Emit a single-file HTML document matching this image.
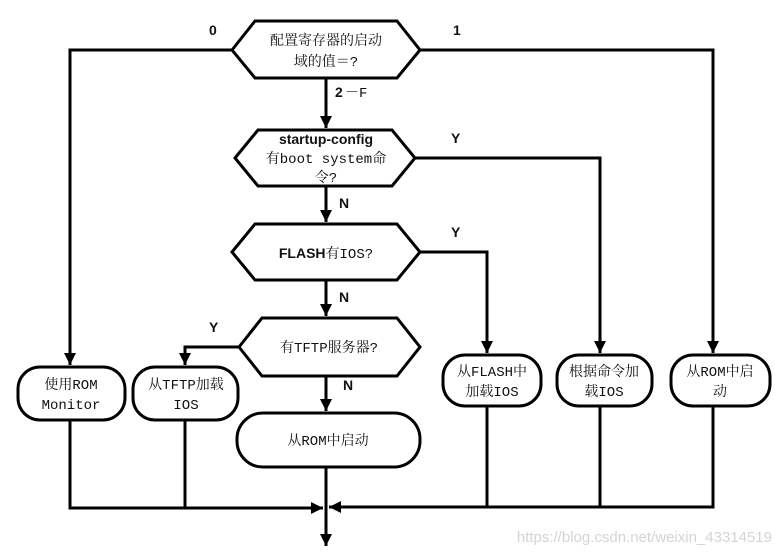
<!DOCTYPE html>
<html><head><meta charset="utf-8"><style>
html,body{margin:0;padding:0;background:#fff;}
svg{display:block;}
.c{font-family:"Liberation Mono","Noto Serif CJK SC","Noto Sans CJK SC",monospace;font-size:14px;font-weight:normal;fill:#111;}
.b{font-family:"Liberation Sans",Arial,sans-serif;font-weight:bold;font-size:14px;fill:#111;}
</style></head><body>
<svg width="775" height="554" viewBox="0 0 775 554" xmlns="http://www.w3.org/2000/svg">
<defs>
<marker id="a" viewBox="0 0 10 10" refX="10" refY="5" markerWidth="4" markerHeight="4" orient="auto" markerUnits="strokeWidth">
<path d="M0,0 L10,5 L0,10 z" fill="#000"/></marker>
</defs>
<g fill="none" stroke="#000" stroke-width="3" stroke-linejoin="miter">
<polygon points="232,50 255,21 397,21 420,50 397,78 255,78" fill="#fff"/>
<polygon points="235,158 258,130 392,130 415,158 392,186 258,186" fill="#fff"/>
<polygon points="232,252 255,224 397,224 420,252 397,280 255,280" fill="#fff"/>
<polygon points="239,347 262,318 397,318 420,347 397,376 262,376" fill="#fff"/>
<rect x="237" y="413" width="183" height="54" rx="26"/>
<rect x="18" y="367" width="107" height="53" rx="22"/>
<rect x="133" y="367" width="105" height="53" rx="22"/>
<rect x="443" y="355" width="98" height="51" rx="22"/>
<rect x="557" y="355" width="95" height="51" rx="22"/>
<rect x="671" y="355" width="99" height="51" rx="22"/>
<path d="M232,50 H70 V365" marker-end="url(#a)"/>
<path d="M420,50 H713 V353" marker-end="url(#a)"/>
<path d="M326,78 V128" marker-end="url(#a)"/>
<path d="M415,158 H600 V353" marker-end="url(#a)"/>
<path d="M326,186 V222" marker-end="url(#a)"/>
<path d="M420,252 H487 V353" marker-end="url(#a)"/>
<path d="M326,280 V316" marker-end="url(#a)"/>
<path d="M239,347 H185 V365" marker-end="url(#a)"/>
<path d="M326,376 V411" marker-end="url(#a)"/>
<path d="M70,420 V508 H323" marker-end="url(#a)"/>
<path d="M185,420 V508"/>
<path d="M713,406 V507 H329" marker-end="url(#a)"/>
<path d="M487,406 V507 M600,406 V507"/>
<path d="M326,467 V546" marker-end="url(#a)"/>
</g>
<text class="b" x="209" y="35">0</text>
<text class="b" x="453" y="35">1</text>
<text class="c" x="326" y="45" text-anchor="middle">配置寄存器的启动</text>
<text class="c" x="326" y="66" text-anchor="middle">域的值＝?</text>
<text class="b" x="335" y="97">2</text><text class="c" x="345" y="97">－F</text>
<text class="b" x="326" y="144" text-anchor="middle">startup-config</text>
<text class="c" x="326" y="163" text-anchor="middle">有boot system命</text>
<text class="c" x="326" y="182" text-anchor="middle">令?</text>
<text class="b" x="451" y="143">Y</text>
<text class="b" x="339" y="208">N</text>
<text class="b" x="326" y="258" text-anchor="middle">FLASH<tspan class="c">有IOS?</tspan></text>
<text class="b" x="451" y="237">Y</text>
<text class="b" x="339" y="302">N</text>
<text class="c" x="329" y="352" text-anchor="middle">有TFTP服务器?</text>
<text class="b" x="209" y="332">Y</text>
<text class="b" x="343" y="390">N</text>
<text class="c" x="328" y="445" text-anchor="middle">从ROM中启动</text>
<text class="c" x="71" y="389" text-anchor="middle">使用ROM</text>
<text class="c" x="71" y="409" text-anchor="middle">Monitor</text>
<text class="c" x="186" y="389" text-anchor="middle">从TFTP加载</text>
<text class="c" x="186" y="409" text-anchor="middle">IOS</text>
<text class="c" x="492" y="376" text-anchor="middle">从FLASH中</text>
<text class="c" x="492" y="396" text-anchor="middle">加载IOS</text>
<text class="c" x="604" y="376" text-anchor="middle">根据命令加</text>
<text class="c" x="604" y="396" text-anchor="middle">载IOS</text>
<text class="c" x="720" y="376" text-anchor="middle">从ROM中启</text>
<text class="c" x="720" y="396" text-anchor="middle">动</text>
<text x="772" y="542" text-anchor="end" font-family="Liberation Sans,sans-serif" font-size="15" fill="#d4d4d4">https://blog.csdn.net/weixin_43314519</text>
</svg>
</body></html>
